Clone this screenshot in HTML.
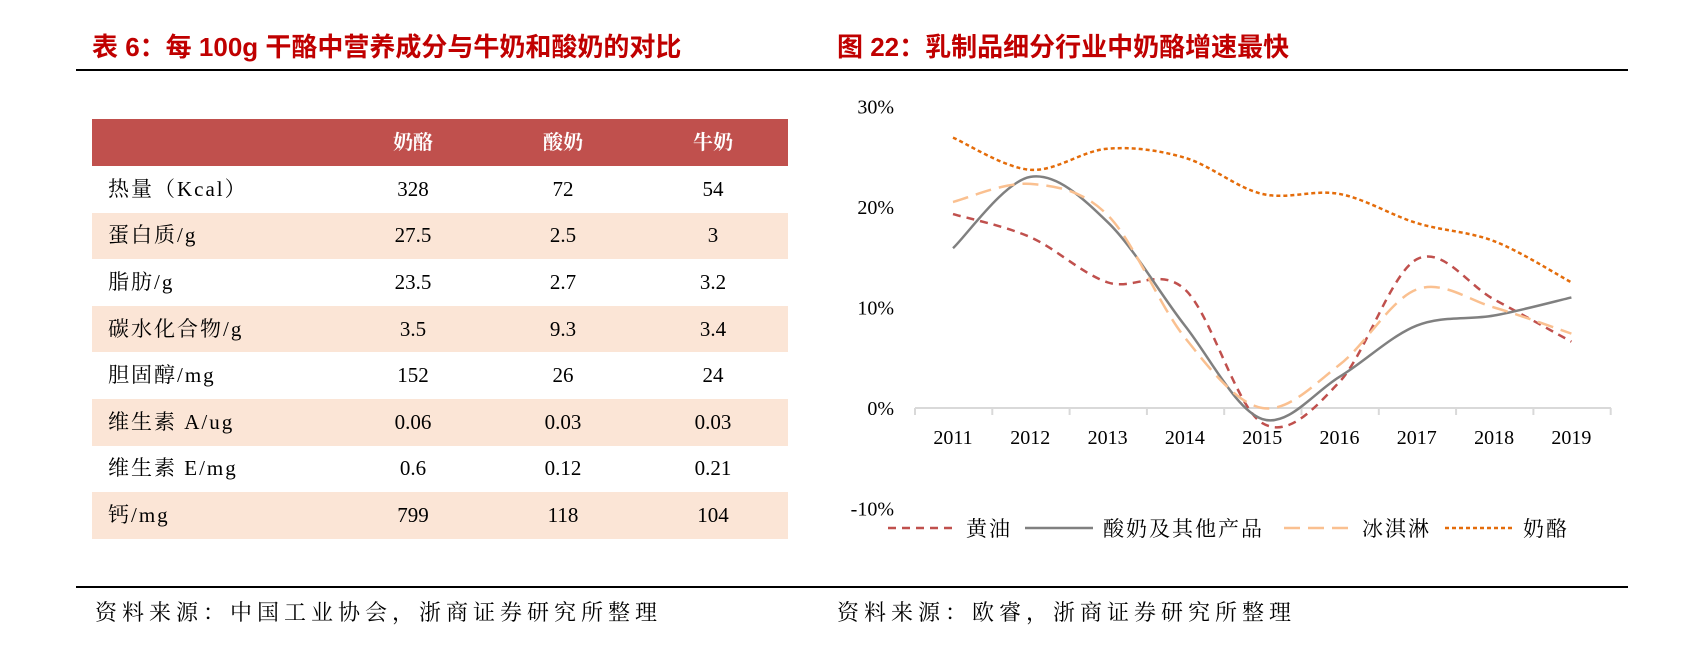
<!DOCTYPE html>
<html><head><meta charset="utf-8"><style>
body{margin:0;width:1704px;height:656px;background:#fff;position:relative;overflow:hidden;font-family:"Liberation Serif","Noto Serif CJK SC",serif;}
.t{position:absolute;white-space:nowrap}
.title{font-family:"Liberation Sans","Noto Sans CJK SC",sans-serif;font-weight:bold;color:#C00000;font-size:26px;top:30px;line-height:34px}
.hl{position:absolute;background:#000}
table{position:absolute;left:92px;top:119px;width:696px;border-collapse:collapse;font-size:21px;line-height:1}
td{height:46.6px;padding:0;text-align:center;vertical-align:middle}
td:first-child{text-align:left;padding-left:16px;width:230px;letter-spacing:2px}
tr.h td{background:#C0504D;color:#fff;font-weight:bold;font-size:20px;height:47px}
tr.s td{background:#FBE5D6}
.src{font-size:22px;top:596px;letter-spacing:5px}
</style></head><body>
<div class="t title" style="left:92px">表 6：每 100g 干酪中营养成分与牛奶和酸奶的对比</div>
<div class="t title" style="left:837px">图 22：乳制品细分行业中奶酪增速最快</div>
<div class="hl" style="left:76px;top:69px;width:1552px;height:2px"></div>
<div class="hl" style="left:76px;top:586px;width:1552px;height:2px"></div>
<div class="t src" style="left:95px">资料来源：中国工业协会，浙商证券研究所整理</div>
<div class="t src" style="left:837px">资料来源：欧睿，浙商证券研究所整理</div>
<table>
<tr class="h"><td></td><td>奶酪</td><td>酸奶</td><td>牛奶</td></tr>
<tr><td>热量（Kcal）</td><td>328</td><td>72</td><td>54</td></tr>
<tr class="s"><td>蛋白质/g</td><td>27.5</td><td>2.5</td><td>3</td></tr>
<tr><td>脂肪/g</td><td>23.5</td><td>2.7</td><td>3.2</td></tr>
<tr class="s"><td>碳水化合物/g</td><td>3.5</td><td>9.3</td><td>3.4</td></tr>
<tr><td>胆固醇/mg</td><td>152</td><td>26</td><td>24</td></tr>
<tr class="s"><td>维生素 A/ug</td><td>0.06</td><td>0.03</td><td>0.03</td></tr>
<tr><td>维生素 E/mg</td><td>0.6</td><td>0.12</td><td>0.21</td></tr>
<tr class="s"><td>钙/mg</td><td>799</td><td>118</td><td>104</td></tr>
</table>
<svg id="c" width="1704" height="656" style="position:absolute;left:0;top:0"></svg>
<script>
const years=["2011","2012","2013","2014","2015","2016","2017","2018","2019"];
const yTicks=[30,20,10,0,-10];
const butter=[19.3,17.0,12.5,11.8,-1.5,2.6,14.8,10.8,6.6];
const yogurt=[15.9,23.0,18.5,8.2,-1.1,3.1,8.2,9.2,11.0];
const icecream=[20.5,22.3,19.2,7.0,0,4.3,11.8,10.0,7.4];
const cheese=[26.9,23.7,25.8,24.9,21.3,21.3,18.4,16.6,12.5];
const names=["黄油","酸奶及其他产品","冰淇淋","奶酪"];
const svg=document.getElementById('c');const NS='http://www.w3.org/2000/svg';
const X=i=>953+i*77.3, Y=v=>408-v*10.05;
function mk(t,a){const e=document.createElementNS(NS,t);for(const k in a)e.setAttribute(k,a[k]);svg.appendChild(e);return e;}
yTicks.forEach(v=>{const e=mk('text',{x:894,y:Y(v)+7,'text-anchor':'end','font-size':20,'font-family':'Liberation Serif'});e.textContent=v+'%';

});
const ax=mk('line',{x1:915,x2:1611,y1:408,y2:408,stroke:'#d9d9d9','stroke-width':2});


for(let i=0;i<=years.length;i++){const x=915+i*77.3;const t=mk('line',{x1:x,x2:x,y1:408,y2:415,stroke:'#d9d9d9','stroke-width':2});

}
years.forEach((y,i)=>{const e=mk('text',{x:X(i),y:444,'text-anchor':'middle','font-size':20,'font-family':'Liberation Serif'});e.textContent=y;

});
function smooth(d){const p=d.map((v,i)=>[X(i),Y(v)]);let s='M'+p[0][0]+','+p[0][1];
for(let i=0;i<p.length-1;i++){const p0=p[Math.max(0,i-1)],p1=p[i],p2=p[i+1],p3=p[Math.min(p.length-1,i+2)];
s+=` C${p1[0]+(p2[0]-p0[0])/6},${p1[1]+(p2[1]-p0[1])/6} ${p2[0]-(p3[0]-p1[0])/6},${p2[1]-(p3[1]-p1[1])/6} ${p2[0]},${p2[1]}`;}return s;}
const styles=[{stroke:'#C0504D',dash:'8,6',w:2.5},{stroke:'#808080',dash:'',w:2.5},{stroke:'#FAC090',dash:'16,8',w:2.5},{stroke:'#E46C0A',dash:'4,3',w:2.5}];
const slugs=['series-butter','series-yogurt','series-icecream','series-cheese'];
[butter,yogurt,icecream,cheese].forEach((d,k)=>{const st=styles[k];
const p=mk('path',{d:smooth(d),fill:'none',stroke:st.stroke,'stroke-width':st.w,'stroke-dasharray':st.dash});

});
const lx=[888,1025,1284,1445];
names.forEach((n,k)=>{const st=styles[k];
const l=mk('line',{x1:lx[k],x2:lx[k]+68,y1:528,y2:528,stroke:st.stroke,'stroke-width':2.5,'stroke-dasharray':st.dash});


const t=mk('text',{x:lx[k]+78,y:536,'font-size':21,'letter-spacing':2,'font-family':'Noto Serif CJK SC, serif'});t.textContent=n;

});
</script>
</body></html>
